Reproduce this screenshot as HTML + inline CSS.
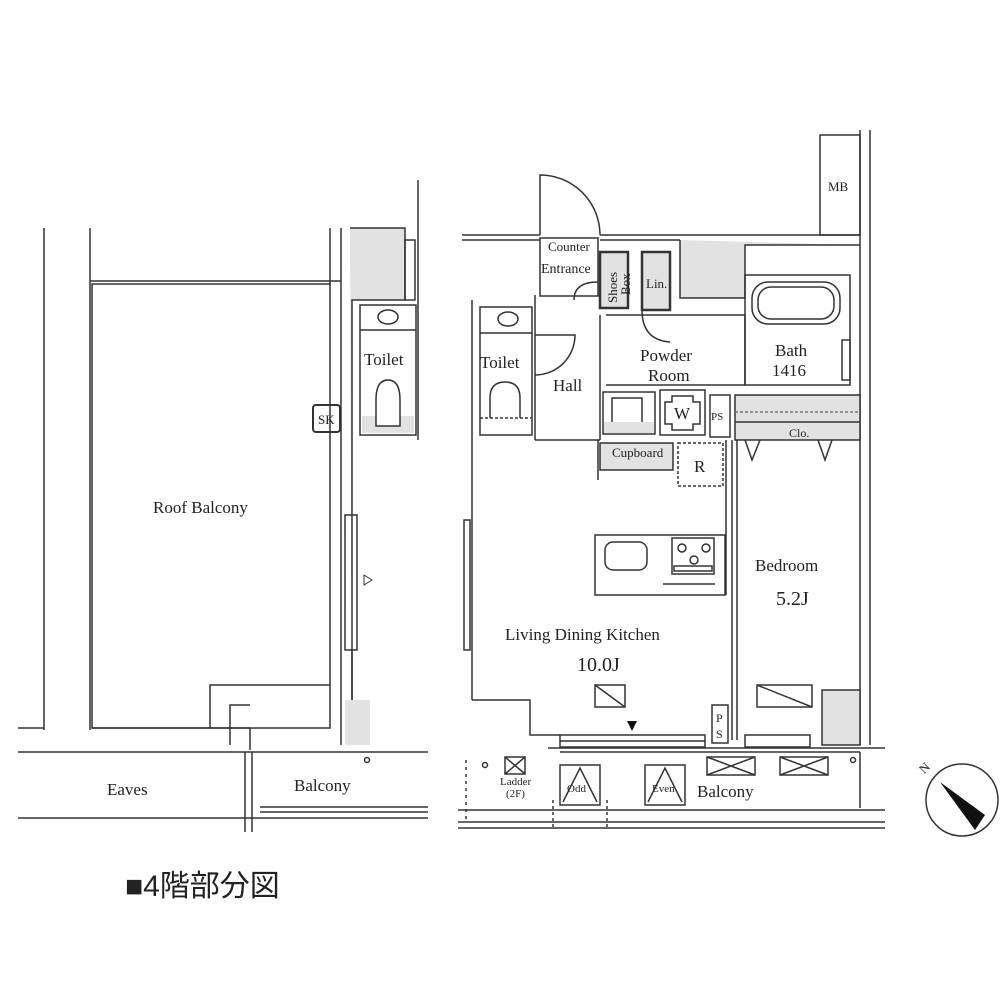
<!DOCTYPE html>
<html><head><meta charset="utf-8"><style>
html,body{margin:0;padding:0;background:#fff;width:1000px;height:1000px;overflow:hidden}
svg{display:block}
text{font-family:"Liberation Serif",serif;fill:#222}
</style></head><body>
<svg width="1000" height="1000" viewBox="0 0 1000 1000" xmlns="http://www.w3.org/2000/svg">
<g stroke="#333" stroke-width="1.5" fill="none">
<!-- LEFT AREA -->
<line x1="44" y1="228" x2="44" y2="730"/>
<line x1="90" y1="228" x2="90" y2="282"/>
<line x1="90" y1="281" x2="341" y2="281"/>
<rect x="92" y="284" width="238" height="444"/>
<line x1="90" y1="282" x2="90" y2="730"/>
<line x1="330" y1="228" x2="330" y2="284"/>
<line x1="341" y1="228" x2="341" y2="745"/>
<path d="M350 228 L405 228 L405 300 L352 300 L352 745" fill="#e2e2e2"/>
<rect x="405" y="240" width="10" height="60"/>
<line x1="418" y1="180" x2="418" y2="440"/>
<rect x="360" y="305" width="56" height="130"/>
<line x1="360" y1="330" x2="416" y2="330"/>
<ellipse cx="388" cy="317" rx="10" ry="7"/>
<rect x="362" y="416" width="52" height="17" fill="#e2e2e2" stroke="none"/>
<path d="M376 426 L376 400 Q376 380 388 380 Q400 380 400 400 L400 426 Z" fill="#fff"/>
<rect x="313" y="405" width="27" height="27" rx="3" stroke-width="2"/>
<rect x="345" y="515" width="12" height="135"/>
<path d="M364 575 L372 580 L364 585 Z" stroke-width="1"/>
<line x1="352" y1="650" x2="352" y2="745"/>
<path d="M345 700 L370 700 L370 745 L345 745 Z" fill="#e2e2e2" stroke="none"/>
<line x1="18" y1="728" x2="44" y2="728"/>
<line x1="92" y1="728" x2="250" y2="728"/>
<path d="M210 728 L210 685 L330 685"/>
<path d="M230 745 L230 705 L250 705"/>
<path d="M250 728 L250 750"/>
<line x1="18" y1="752" x2="428" y2="752"/>
<line x1="18" y1="818" x2="428" y2="818"/>
<line x1="245" y1="752" x2="245" y2="832"/>
<line x1="252" y1="752" x2="252" y2="832"/>
<line x1="260" y1="807" x2="428" y2="807"/>
<line x1="260" y1="812" x2="428" y2="812"/>
<circle cx="367" cy="760" r="2.5"/>
<!-- RIGHT UNIT -->
<line x1="462" y1="235" x2="540" y2="235"/>
<line x1="462" y1="240" x2="540" y2="240"/>
<line x1="472" y1="300" x2="472" y2="700"/>
<rect x="464" y="520" width="6" height="130"/>
<path d="M472 700 L530 700 L530 735 L560 735"/>
<rect x="560" y="735" width="145" height="12"/>
<line x1="560" y1="741" x2="705" y2="741"/>
<path d="M540 235 L540 175 A60 60 0 0 1 600 235"/>
<path d="M600 235 L860 235"/>
<path d="M600 240 L680 240"/>
<path d="M680 240 L680 298 L745 298 L745 245 L860 245" fill="#e2e2e2"/>
<rect x="820" y="135" width="40" height="100"/>
<line x1="860" y1="130" x2="860" y2="745"/>
<line x1="870" y1="130" x2="870" y2="745"/>
<!-- entrance -->
<rect x="540" y="238" width="58" height="58"/>
<rect x="600" y="252" width="28" height="56" fill="#e2e2e2" stroke-width="2.5"/>
<rect x="642" y="252" width="28" height="58" fill="#e2e2e2" stroke-width="2.5"/>
<path d="M642 310 Q642 340 670 342"/>
<path d="M574 300 Q574 282 598 282"/>
<!-- toilet right -->
<rect x="480" y="307" width="52" height="128"/>
<line x1="480" y1="333" x2="532" y2="333"/>
<ellipse cx="508" cy="319" rx="10" ry="7"/>
<line x1="480" y1="418" x2="532" y2="418" stroke-dasharray="3 2"/>
<path d="M490 418 L490 398 Q490 382 505 382 Q520 382 520 398 L520 418"/>
<path d="M535 335 L575 335 A40 40 0 0 1 535 375"/>
<line x1="535" y1="295" x2="535" y2="440"/>
<line x1="535" y1="440" x2="600" y2="440"/>
<line x1="600" y1="315" x2="600" y2="440"/>
<!-- powder -->
<path d="M606 315 L745 315 L745 385 L606 385"/>
<rect x="745" y="275" width="105" height="110"/>
<rect x="752" y="282" width="88" height="42" rx="16"/>
<rect x="758" y="287" width="76" height="32" rx="13"/>
<rect x="842" y="340" width="8" height="40"/>
<rect x="603" y="392" width="52" height="42"/>
<rect x="612" y="398" width="30" height="25"/>
<rect x="604" y="422" width="50" height="11" fill="#e2e2e2" stroke="none"/>
<rect x="660" y="390" width="45" height="45"/>
<path d="M672 396 L693 396 L693 402 L700 402 L700 424 L693 424 L693 430 L672 430 L672 424 L665 424 L665 402 L672 402 Z"/>
<rect x="710" y="395" width="20" height="42"/>
<rect x="735" y="395" width="125" height="45" fill="#e2e2e2"/>
<line x1="735" y1="412" x2="860" y2="412" stroke-dasharray="3 2" stroke="#777"/>
<line x1="735" y1="422" x2="860" y2="422"/>
<path d="M745 440 L752 460 L760 440 M818 440 L825 460 L832 440"/>
<rect x="600" y="443" width="73" height="27" fill="#e2e2e2"/>
<rect x="678" y="443" width="45" height="43" stroke-dasharray="3 2"/>
<line x1="598" y1="440" x2="598" y2="480"/>
<line x1="726" y1="440" x2="726" y2="595"/>
<line x1="732" y1="440" x2="732" y2="740"/>
<line x1="737" y1="440" x2="737" y2="740"/>
<!-- island -->
<rect x="595" y="535" width="130" height="60"/>
<rect x="605" y="542" width="42" height="28" rx="8"/>
<rect x="672" y="538" width="42" height="36"/>
<rect x="674" y="566" width="38" height="5"/>
<circle cx="682" cy="548" r="4"/><circle cx="706" cy="548" r="4"/><circle cx="694" cy="560" r="4"/>
<line x1="663" y1="584" x2="715" y2="584"/>
<!-- windows / bottom -->
<rect x="595" y="685" width="30" height="22"/>
<line x1="595" y1="685" x2="625" y2="707"/>
<rect x="757" y="685" width="55" height="22"/>
<line x1="757" y1="685" x2="812" y2="707"/>
<rect x="712" y="705" width="16" height="38"/>
<rect x="745" y="735" width="65" height="12"/>
<path d="M822 745 L822 690 L860 690 L860 745 Z" fill="#e2e2e2"/>
<line x1="548" y1="748" x2="885" y2="748"/>
<line x1="560" y1="752" x2="860" y2="752"/>
<!-- balcony right -->
<rect x="505" y="757" width="20" height="17"/>
<path d="M505 757 L525 774 M525 757 L505 774"/>
<rect x="560" y="765" width="40" height="40"/><path d="M563 802 L580 768 L597 802"/>
<rect x="645" y="765" width="40" height="40"/><path d="M648 802 L665 768 L682 802"/>
<rect x="707" y="757" width="48" height="18"/><path d="M707 757 L755 775 M755 757 L707 775"/>
<rect x="780" y="757" width="48" height="18"/><path d="M780 757 L828 775 M828 757 L780 775"/>
<line x1="860" y1="752" x2="860" y2="808"/>
<circle cx="485" cy="765" r="2.5"/><circle cx="853" cy="760" r="2.5"/>
<line x1="458" y1="810" x2="885" y2="810"/>
<line x1="458" y1="822" x2="885" y2="822"/>
<line x1="458" y1="828" x2="885" y2="828"/>
<line x1="466" y1="760" x2="466" y2="822" stroke-dasharray="3 4"/>
<line x1="553" y1="800" x2="553" y2="828" stroke-dasharray="3 3"/>
<line x1="607" y1="800" x2="607" y2="828" stroke-dasharray="3 3"/>
<!-- compass -->
<circle cx="962" cy="800" r="36"/>
</g>
<path d="M940 782 L985 815 L975 830 Z" fill="#111"/>
<text x="920" y="772" font-size="13" transform="rotate(-45 925 768)">N</text>
<path d="M627 721 L637 721 L632 731 Z" fill="#111"/>
<g font-size="17">
<text x="153" y="513">Roof Balcony</text>
<text x="364" y="365">Toilet</text>
<text x="480" y="368">Toilet</text>
<text x="553" y="391">Hall</text>
<text x="640" y="361">Powder</text>
<text x="648" y="381">Room</text>
<text x="775" y="356">Bath</text>
<text x="772" y="376">1416</text>
<text x="755" y="571">Bedroom</text>
<text x="776" y="605" font-size="20">5.2J</text>
<text x="505" y="640">Living Dining Kitchen</text>
<text x="577" y="671" font-size="20">10.0J</text>
<text x="107" y="795">Eaves</text>
<text x="294" y="791">Balcony</text>
<text x="697" y="797">Balcony</text>
</g>
<g font-size="13">
<text x="548" y="251">Counter</text>
<text x="541" y="273" font-size="14">Entrance</text>
<text x="646" y="288">Lin.</text>
<text x="612" y="457">Cupboard</text>
<text x="828" y="191">MB</text>
<text x="789" y="437" font-size="12">Clo.</text>
<text x="711" y="420" font-size="11">PS</text>
<text x="318" y="424">SK</text>
<text x="500" y="785" font-size="11">Ladder</text>
<text x="506" y="797" font-size="11">(2F)</text>
<text x="567" y="792" font-size="11">Odd</text>
<text x="652" y="792" font-size="11">Even</text>
<text x="694" y="472" font-size="17">R</text>
<text x="674" y="419" font-size="17">W</text>
<text x="716" y="722" font-size="12">P</text>
<text x="716" y="738" font-size="12">S</text>
</g>
<text font-size="13" transform="translate(617 303) rotate(-90)">Shoes</text>
<text font-size="13" transform="translate(630 295) rotate(-90)">Box</text>
<text x="125" y="896" font-size="30" style="font-family:'Liberation Sans','Noto Sans CJK JP',sans-serif">■4階部分図</text>
</svg>
</body></html>
